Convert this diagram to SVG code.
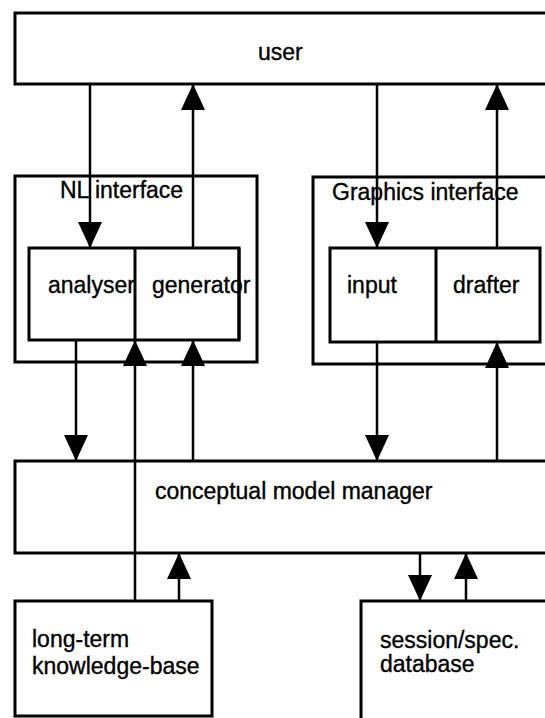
<svg xmlns="http://www.w3.org/2000/svg" width="545" height="718" viewBox="0 0 545 718">
  <style>
    .box { fill: #ffffff; stroke: #000000; stroke-width: 3; }
    .div { stroke: #000000; stroke-width: 3; }
    .lbl { font-family: "Liberation Sans", Arial, Helvetica, sans-serif; font-size: 23px; fill: #000000; stroke: #000000; stroke-width: 0.35; }
    .link { fill: none; stroke: #000000; stroke-width: 2.5; marker-end: url(#head); }
  </style>
  <defs>
    <marker id="head" viewBox="0 0 26 24" refX="26" refY="12" markerWidth="26" markerHeight="24" markerUnits="userSpaceOnUse" orient="auto">
      <path d="M0,0 L26,12 L0,24 z" fill="#000000"/>
    </marker>
  </defs>
  <rect x="0" y="0" width="545" height="718" fill="#ffffff"/>

  <g id="user">
    <rect class="box" x="15" y="13" width="560" height="71"/>
    <text class="lbl" x="258" y="60">user</text>
  </g>

  <g id="nl-interface">
    <rect class="box" x="15" y="176" width="242" height="186"/>
    <text class="lbl" x="60" y="198">NL interface</text>
  </g>

  <g id="analyser-generator">
    <rect class="box" x="29" y="248" width="210" height="92"/>
    <text class="lbl" x="48" y="293">analyser</text>
    <text class="lbl" x="152" y="293">generator</text>
    <line class="div" x1="239" y1="248" x2="239" y2="340"/>
    <line class="div" x1="135" y1="248" x2="135" y2="340"/>
  </g>

  <g id="graphics-interface">
    <rect class="box" x="313" y="177" width="260" height="187"/>
    <text class="lbl" x="332" y="200">Graphics interface</text>
  </g>

  <g id="input-drafter">
    <rect class="box" x="330" y="248" width="210" height="94"/>
    <line class="div" x1="436" y1="248" x2="436" y2="342"/>
    <text class="lbl" x="347" y="293">input</text>
    <text class="lbl" x="453" y="293">drafter</text>
  </g>

  <g id="conceptual-model-manager">
    <rect class="box" x="15" y="461" width="560" height="92"/>
    <text class="lbl" x="155" y="499">conceptual model manager</text>
  </g>

  <g id="knowledge-base">
    <rect class="box" x="15" y="601" width="197" height="115"/>
    <text class="lbl" x="32" y="647">long-term</text>
    <text class="lbl" x="32" y="674">knowledge-base</text>
  </g>

  <g id="session-database">
    <rect class="box" x="361" y="601" width="220" height="130"/>
    <text class="lbl" x="380" y="648">session/spec.</text>
    <text class="lbl" x="380" y="672">database</text>
  </g>

  <g id="connectors">
    <!-- user to NL interface -->
    <line class="link" x1="90" y1="84" x2="90" y2="248"/>
    <line class="link" x1="193" y1="248" x2="193" y2="84"/>
    <!-- user to graphics interface -->
    <line class="link" x1="377" y1="84" x2="377" y2="248"/>
    <line class="link" x1="497" y1="248" x2="497" y2="84"/>
    <!-- NL interface to conceptual model manager -->
    <line class="link" x1="76" y1="340" x2="76" y2="461"/>
    <line class="link" x1="193" y1="461" x2="193" y2="340"/>
    <!-- knowledge-base straight up to the analyser/generator -->
    <line class="link" x1="135" y1="601" x2="135" y2="340"/>
    <!-- graphics interface to conceptual model manager -->
    <line class="link" x1="377" y1="342" x2="377" y2="461"/>
    <line class="link" x1="497" y1="461" x2="497" y2="342"/>
    <!-- knowledge-base to conceptual model manager -->
    <line class="link" x1="179" y1="601" x2="179" y2="553"/>
    <!-- conceptual model manager and session database -->
    <line class="link" x1="420" y1="553" x2="420" y2="601"/>
    <line class="link" x1="466" y1="601" x2="466" y2="553"/>
  </g>
</svg>
